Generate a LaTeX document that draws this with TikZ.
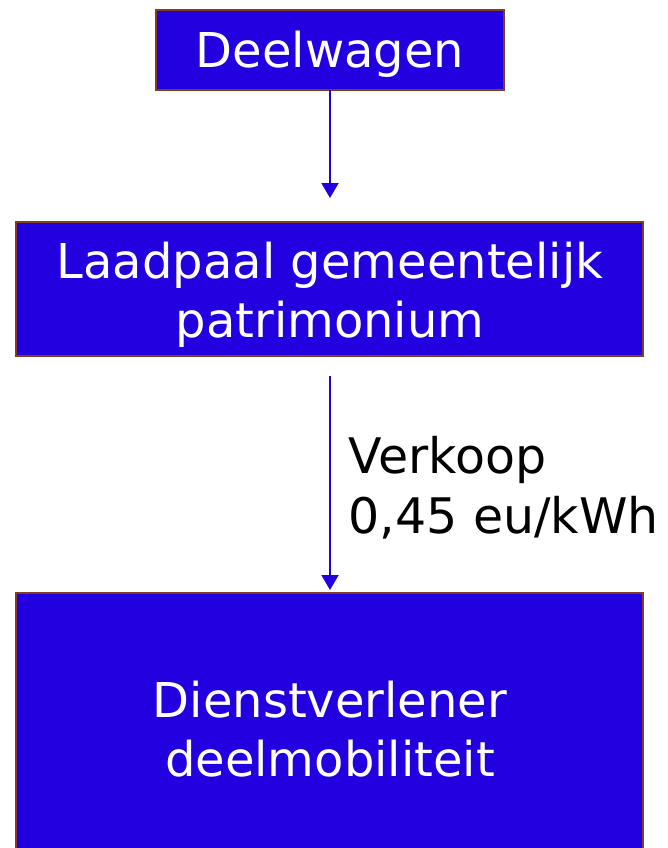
\documentclass[tikz,border=0pt]{standalone}
\usepackage{fontspec}
\setmainfont{DejaVu Sans}
\usetikzlibrary{arrows.meta}
\definecolor{boxblue}{RGB}{34,0,224}
\definecolor{boxbrown}{RGB}{127,63,32}
\tikzset{
  box/.style={draw=boxbrown, line width=2.2pt, fill=boxblue},
  boxtext/.style={text=white, align=center, font=\fontsize{48}{59}\selectfont},
  flow/.style={draw=boxblue, line width=2pt, -{Triangle[length=15pt,width=17pt]}},
  lbl/.style={text=black, align=left, anchor=west, font=\fontsize{49}{60}\selectfont}
}
\begin{document}
\begin{tikzpicture}[x=1pt,y=-1pt]
\useasboundingbox (0,0) rectangle (668,848);
\draw[box] (156,10) rectangle (504,90);
\node[boxtext] (a) at (330,54) {Deelwagen};
\draw[box] (16,222) rectangle (643,356);
\node[boxtext] (b) at (330,295) {Laadpaal gemeentelijk\\patrimonium};
\draw[box] (16,593) rectangle (643,860);
\node[boxtext] (c) at (330,729) {Dienstverlener\\deelmobiliteit};
\coordinate (a1) at (330,90);
\coordinate (a2) at (330,198);
\coordinate (b1) at (330,376);
\coordinate (b2) at (330,590);
\draw[flow] (a1) -- (a2);
\draw[flow] (b1) -- (b2);
\node[lbl] (l) at (345,488) {Verkoop\\0,45 eu/kWh};
\end{tikzpicture}
\end{document}
